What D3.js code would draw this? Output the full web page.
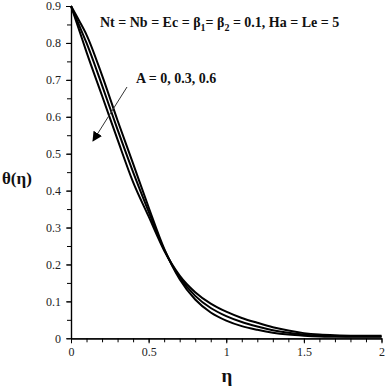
<!DOCTYPE html>
<html>
<head>
<meta charset="utf-8">
<script src="https://cdn.jsdelivr.net/npm/d3@7"></script>
<style>
  body { margin: 0; background: #fff; }
  svg text { font-family: "Liberation Serif", "Times New Roman", serif; }
</style>
</head>
<body>
<div id="chart"></div>
<script>
// eta grid and theta for A = 0, 0.3, 0.6
var eta = [0, 0.05, 0.1, 0.2, 0.3, 0.4, 0.5, 0.6, 0.7, 0.8, 0.9, 1.0, 1.1, 1.2, 1.3, 1.4, 1.5, 1.6, 1.7, 1.8, 1.9, 2.0];
var thetaA0  = [0.9, 0.862, 0.822, 0.712, 0.59, 0.473, 0.355, 0.243, 0.16, 0.105, 0.07, 0.048, 0.033, 0.023, 0.015, 0.01, 0.007, 0.005, 0.004, 0.004, 0.004, 0.004];
var thetaA03 = [0.9, 0.85, 0.8, 0.685, 0.565, 0.45, 0.343, 0.24, 0.165, 0.115, 0.082, 0.06, 0.044, 0.032, 0.022, 0.015, 0.01, 0.007, 0.006, 0.005, 0.005, 0.005];
var thetaA06 = [0.9, 0.838, 0.775, 0.657, 0.538, 0.423, 0.33, 0.238, 0.17, 0.125, 0.094, 0.072, 0.055, 0.042, 0.03, 0.021, 0.014, 0.01, 0.008, 0.007, 0.007, 0.007];
var series = [thetaA0, thetaA03, thetaA06];

var xMajor = [0, 0.5, 1, 1.5, 2];
var yMajor = [0, 0.1, 0.2, 0.3, 0.4, 0.5, 0.6, 0.7, 0.8, 0.9];

var width = 387, height = 390;

var svg = d3.select("#chart")
    .append("svg")
    .attr("width", width)
    .attr("height", height);

var x = d3.scaleLinear().domain([0, 2]).range([71, 381.5]);
var y = d3.scaleLinear().domain([0, 0.9]).range([338.3, 6]);

// minor ticks
var xMinor = d3.range(0, 2.001, 0.1);
var yMinor = d3.range(0, 0.901, 0.05);

svg.append("g")
    .attr("transform", "translate(0," + y(0) + ")")
    .call(d3.axisBottom(x).tickValues(xMinor).tickSize(4).tickSizeOuter(0).tickFormat(""));

svg.append("g")
    .attr("transform", "translate(" + x(0) + ",0)")
    .call(d3.axisLeft(y).tickValues(yMinor).tickSize(4).tickSizeOuter(0).tickFormat(""));

svg.append("g")
    .attr("transform", "translate(0," + y(0) + ")")
    .call(d3.axisBottom(x).tickValues(xMajor).tickSize(5).tickSizeOuter(0).tickPadding(4)
        .tickFormat(function(d) { return String(d); }));

svg.append("g")
    .attr("transform", "translate(" + x(0) + ",0)")
    .call(d3.axisLeft(y).tickValues(yMajor).tickSize(5).tickSizeOuter(0).tickPadding(5)
        .tickFormat(function(d) { return String(+d.toFixed(1)); }));

svg.selectAll(".domain").attr("stroke", "#000").attr("stroke-width", 1.2);
svg.selectAll(".tick line").attr("stroke", "#000");
svg.selectAll(".tick text")
    .attr("font-family", "Liberation Serif, serif")
    .attr("font-size", "12px")
    .attr("fill", "#222");

// curves
var line = d3.line()
    .x(function(d, i) { return x(eta[i]); })
    .y(function(d) { return y(d); })
    .curve(d3.curveMonotoneX);

svg.selectAll(".curve")
    .data(series)
    .enter().append("path")
    .attr("class", "curve")
    .attr("d", line)
    .attr("fill", "none")
    .attr("stroke", "#000")
    .attr("stroke-width", 2);

// annotation text
var title = svg.append("text")
    .attr("x", 100)
    .attr("y", 27)
    .attr("font-size", "14px")
    .attr("font-weight", "bold")
    .attr("fill", "#111");
title.append("tspan").text("Nt = Nb = Ec = β");
title.append("tspan").attr("font-size", "10px").attr("dy", 4).text("1");
title.append("tspan").attr("dy", -4).text("= β");
title.append("tspan").attr("font-size", "10px").attr("dy", 4).text("2");
title.append("tspan").attr("dy", -4).text(" = 0.1, Ha = Le = 5");

svg.append("text")
    .attr("x", 136)
    .attr("y", 83)
    .attr("font-size", "14px")
    .attr("font-weight", "bold")
    .attr("fill", "#111")
    .text("A = 0, 0.3, 0.6");

// arrow
svg.append("defs").append("marker")
    .attr("id", "arrowhead")
    .attr("viewBox", "0 0 10 10")
    .attr("refX", 9)
    .attr("refY", 5)
    .attr("markerWidth", 10)
    .attr("markerHeight", 10)
    .attr("markerUnits", "userSpaceOnUse")
    .attr("orient", "auto")
    .append("path")
    .attr("d", "M0,0 L10,5 L0,10 Z")
    .attr("fill", "#000");

svg.append("line")
    .attr("x1", 127).attr("y1", 87)
    .attr("x2", 93).attr("y2", 141)
    .attr("stroke", "#333")
    .attr("stroke-width", 1)
    .attr("marker-end", "url(#arrowhead)");

// axis titles
svg.append("text")
    .attr("x", 2)
    .attr("y", 184)
    .attr("font-size", "17px")
    .attr("font-weight", "bold")
    .attr("fill", "#111")
    .text("θ(η)");

svg.append("text")
    .attr("x", 227)
    .attr("y", 382)
    .attr("text-anchor", "middle")
    .attr("font-size", "19px")
    .attr("font-weight", "bold")
    .attr("fill", "#111")
    .text("η");
</script>
</body>
</html>
